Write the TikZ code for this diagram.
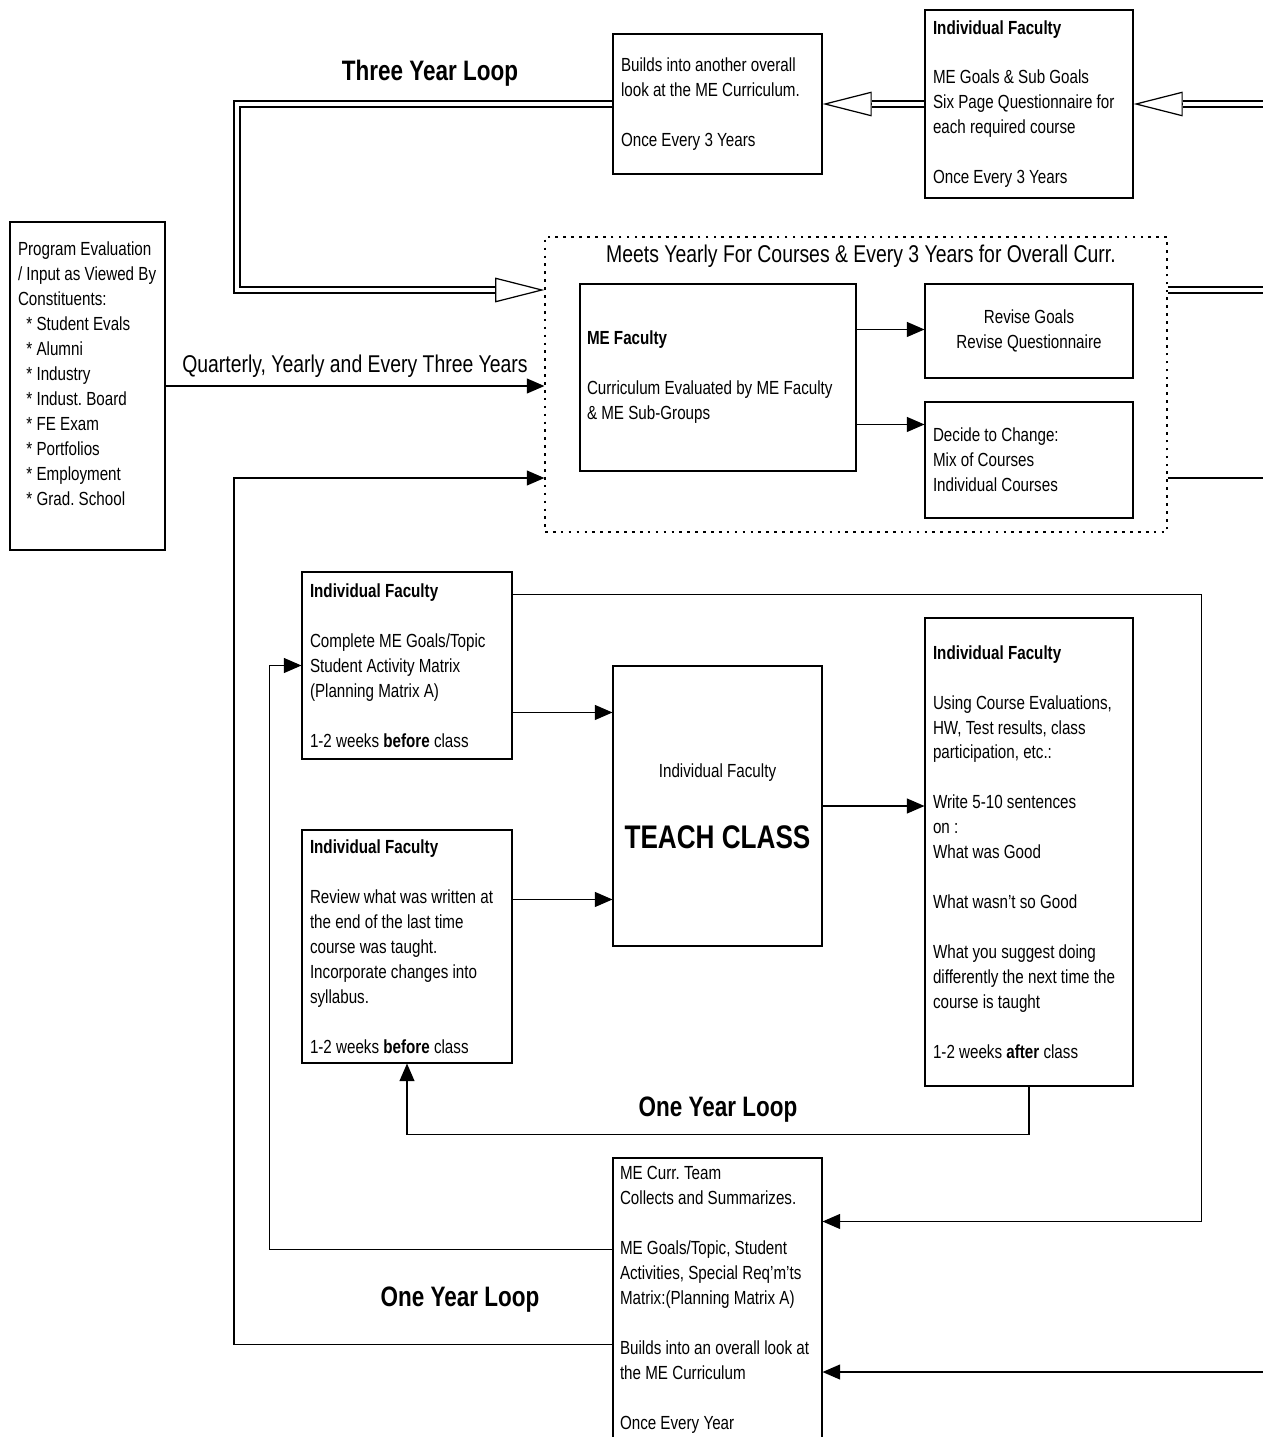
\documentclass[tikz,border=0pt]{standalone}
\usepackage{fontspec}
\setmainfont{Liberation Sans}[FakeStretch=0.8]
\usetikzlibrary{arrows.meta,calc}

\def\px{0.02cm}
\newcommand{\boxfont}{\fontsize{10.8}{14.2}\selectfont}
\newcommand{\skipline}{\\[14.2pt]}

\begin{document}
\begin{tikzpicture}[x=0.02cm, y=-0.02cm,
    box/.style={draw, line width=0.6pt, inner xsep=8*\px, inner ysep=0pt, align=flush left, font=\boxfont},
    arr/.style={line width=0.7pt, -{Triangle[length=10pt, width=8.5pt]}},
    dbl/.style={double, double distance=2.6pt, line width=0.7pt},
    hollow/.style={line width=0.7pt, -{Triangle[length=28pt, width=14pt, fill=white]}},
    looplabel/.style={font=\fontsize{16}{19}\selectfont\bfseries},
    midlabel/.style={font=\fontsize{13.8}{16}\selectfont}]
  \useasboundingbox (0,0) rectangle (1263,1437);

  % Three year loop
  \node[box, text width=193*\px, minimum height=140*\px] (survey) at (717.5,104)
    {Builds into another overall\\look at the ME Curriculum.\skipline Once Every 3 Years};
  \node[box, text width=192*\px, minimum height=188*\px] (goals) at (1029,104)
    {\textbf{Individual Faculty}\skipline ME Goals \& Sub Goals\\Six Page Questionnaire for\\each required course\skipline Once Every 3 Years};
  \node[looplabel] (threeyear) at (430,73) {Three Year Loop};

  % Constituents
  \node[box, text width=139*\px, minimum height=328*\px] (prog) at (87.5,386)
    {Program Evaluation\\/ Input as Viewed By\\Constituents:\\
     \ \ * Student Evals\\\ \ * Alumni\\\ \ * Industry\\\ \ * Indust.\ Board\\
     \ \ * FE Exam\\\ \ * Portfolios\\\ \ * Employment\\\ \ * Grad.\ School\\\mbox{}};

  % Yearly meeting
  \node[draw, line width=0.7pt, dash pattern=on 1.5pt off 3pt, minimum width=622*\px, minimum height=295*\px] (meet) at (856,384.5) {};
  \node[midlabel] (meettitle) at (861,256) {Meets Yearly For Courses \& Every 3 Years for Overall Curr.};
  \node[box, inner xsep=7*\px, text width=262*\px, minimum height=187*\px] (mefac) at (718,377.5)
    {\textbf{ME Faculty}\skipline Curriculum Evaluated by ME Faculty\\\& ME Sub-Groups};
  \node[box, align=flush center, text width=192*\px, minimum height=94*\px] (revise) at (1029,331)
    {Revise Goals\\Revise Questionnaire};
  \node[box, text width=192*\px, minimum height=116*\px] (decide) at (1029,460)
    {Decide to Change:\\Mix of Courses\\Individual Courses};

  % Course level
  \node[box, text width=194*\px, minimum height=187*\px] (plan) at (407,665.5)
    {\textbf{Individual Faculty}\skipline Complete ME Goals/Topic\\Student Activity Matrix\\(Planning Matrix A)\skipline 1-2 weeks \textbf{before} class};
  \node[box, align=flush center, text width=193*\px, minimum height=280*\px] (teach) at (717.5,806)
    {Individual Faculty\\[24pt]{\fontsize{18.6}{22}\selectfont\bfseries TEACH CLASS}};
  \node[box, text width=194*\px, minimum height=233*\px] (review) at (407,946.5)
    {\textbf{Individual Faculty}\skipline Review what was written at\\the end of the last time\\course was taught.\\Incorporate changes into\\syllabus.\skipline 1-2 weeks \textbf{before} class};
  \node[box, text width=192*\px, minimum height=468*\px] (reflect) at (1029,852)
    {\textbf{Individual Faculty}\skipline Using Course Evaluations,\\HW, Test results, class\\participation, etc.:\skipline Write 5-10 sentences\\on :\\What was Good\skipline What wasn’t so Good\skipline What you suggest doing\\differently the next time the\\course is taught\skipline 1-2 weeks \textbf{after} class};
  \node[looplabel] (courseloop) at (718,1110) {One Year Loop};

  % Curriculum team
  \node[box, inner xsep=7*\px, text width=195*\px, minimum height=284*\px] (team) at (717.5,1300)
    {ME Curr.\ Team\\Collects and Summarizes.\skipline ME Goals/Topic, Student\\Activities, Special Req’m’ts\\Matrix:(Planning Matrix A)\skipline Builds into an overall look at\\the ME Curriculum\skipline Once Every Year};
  \node[looplabel] (yearloop) at (460,1300) {One Year Loop};

  % Double connectors
  \coordinate (edgeA) at (1263,104);
  \coordinate (loopA) at (237,290);
  \draw[hollow] (edgeA) -- (goals.east);
  \draw[dbl, shorten >=28pt] (edgeA) -- (goals.east);
  \draw[hollow] (goals.west) -- (survey.east);
  \draw[dbl, shorten >=28pt] (goals.west) -- (survey.east);
  \draw[hollow] (survey.west) -| (loopA) -- (loopA -| meet.west);
  \draw[dbl, shorten >=28pt] (survey.west) -| (loopA) -- (loopA -| meet.west);
  \draw[dbl] (loopA -| meet.east) -- (loopA -| edgeA);

  % Single connectors
  \coordinate (yearin) at (234,478);
  \coordinate (edgeC) at (1263,478);
  \coordinate (edgeD) at (1263,1372);
  \coordinate (facA) at ($(mefac.north east)+(0,46)$);
  \coordinate (facB) at ($(mefac.north east)+(0,141)$);
  \coordinate (planA) at ($(plan.north east)+(0,141)$);
  \coordinate (planB) at ($(plan.north east)+(0,23)$);
  \coordinate (reviewA) at ($(review.north east)+(0,70)$);
  \coordinate (teamA) at ($(team.north east)+(0,64)$);
  \coordinate (teamB) at ($(team.north west)+(0,92)$);
  \coordinate (teamC) at ($(team.north west)+(0,187)$);
  \draw[arr] (prog.east) -- (prog.east -| meet.west)
    node[midway, above=1pt, midlabel] {Quarterly, Yearly and Every Three Years};
  \draw[line width=0.7pt] (edgeC -| meet.east) -- (edgeC);
  \draw[arr] (facA) -- (facA -| revise.west);
  \draw[arr] (facB) -- (facB -| decide.west);
  \draw[arr] (planA) -- (planA -| teach.west);
  \draw[arr] (reviewA) -- (reviewA -| teach.west);
  \draw[arr] (teach.east) -- (teach.east -| reflect.west);
  \draw[arr] (reflect.south) -- ++(0,48) -| (review.south);
  \draw[arr] (planB) -| ($(teamA)+(379,0)$) -- (teamA);
  \draw[arr] (edgeD) -- (edgeD -| team.east);
  \draw[arr] (teamB) -| ($(plan.west)+(-32,0)$) -- (plan.west);
  \draw[arr] (teamC) -| (yearin) -- (yearin -| meet.west);
\end{tikzpicture}
\end{document}
